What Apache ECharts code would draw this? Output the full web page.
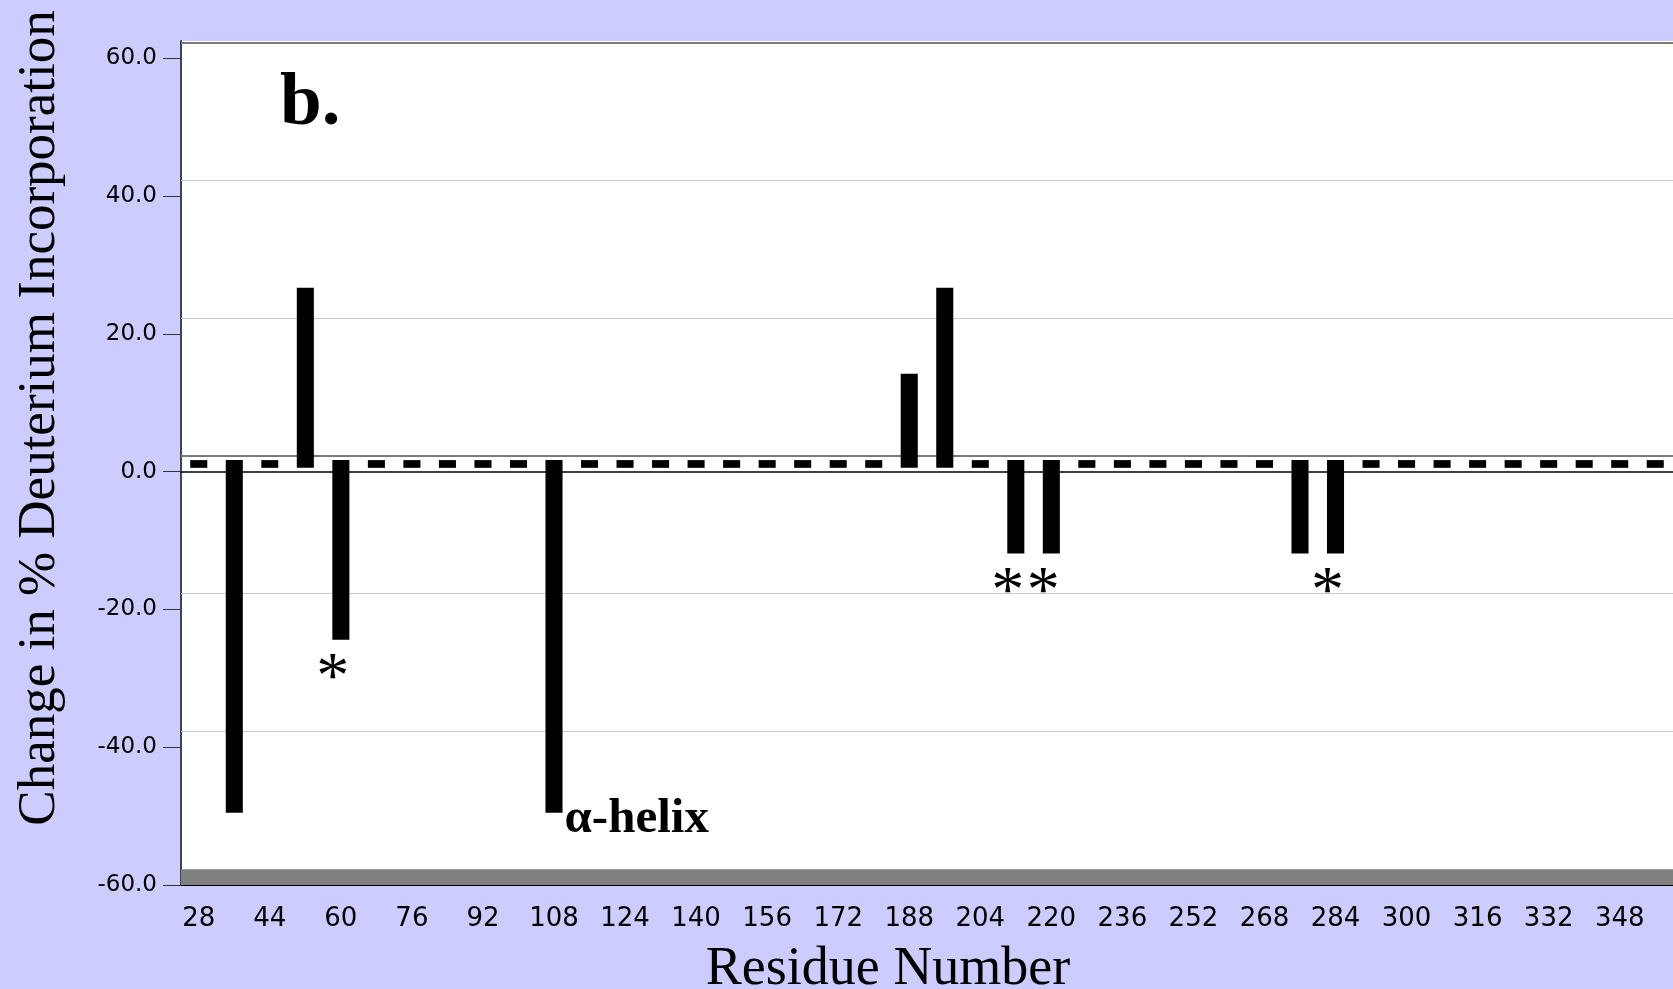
<!DOCTYPE html>
<html>
<head>
<meta charset="utf-8">
<style>
    html, body { margin: 0; padding: 0; background: #ccccff; }
    #chart { width: 1673px; height: 989px; }
</style>
<script src="https://cdn.jsdelivr.net/npm/echarts@6/dist/echarts.min.js"></script>
</head>
<body>
<div id="chart"></div>
<script>
// residues along the x axis, every 8th residue
var residues = [28, 36, 44, 52, 60, 68, 76, 84, 92, 100, 108, 116, 124, 132, 140, 148, 156, 164, 172, 180,
    188, 196, 204, 212, 220, 228, 236, 244, 252, 260, 268, 276, 284, 292, 300, 308, 316, 324, 332, 340, 348, 356];

// change in % deuterium incorporation (0 = no change, drawn as a short dash)
var change = [0, -49.5, 0, 26.7, -24.4, 0, 0, 0, 0, 0, -49.5, 0, 0, 0, 0, 0, 0, 0, 0, 0,
    14.2, 26.7, 0, -11.9, -11.9, 0, 0, 0, 0, 0, 0, -11.9, -11.9, 0, 0, 0, 0, 0, 0, 0, 0, 0];

var yTicks = [-60, -40, -20, 0, 20, 40, 60];

// annotations under some bars
var noteResidues = [60, 108, 212, 220, 284];
var noteTexts = ["*", "α-helix", "*", "*", "*"];

(function() {
    var depth = 2.3,       // 3d-style offset of the plot floor
        dashLo = 0.55,
        dashHi = 1.67;

    var gridLines = yTicks.map(function(t) {
        var dark = (t === 0 || t === 60);
        return {
            yAxis: t + depth,
            lineStyle: {
                color: dark ? "#7a7a7a" : "#c8c8c8",
                width: dark ? 2 : 1,
                type: "solid"
            }
        };
    });

    function renderItem(params, api) {
        var idx = api.value(0),
            v = api.value(1),
            lo = v < 0 ? v : dashLo,
            hi = v > 0 ? v : dashHi;
        var top = api.coord([idx, hi]),
            bottom = api.coord([idx, lo]),
            w = api.size([1, 0])[0] * 0.48;

        var children = [{
            type: "rect",
            shape: { x: top[0] - w / 2, y: top[1], width: w, height: bottom[1] - top[1] },
            style: { fill: "#000" }
        }];

        var n = noteResidues.indexOf(residues[idx]);
        if (n >= 0) {
            var txt = noteTexts[n];
            if (txt === "*") {
                children.push({
                    type: "text",
                    style: {
                        text: txt,
                        x: top[0] - 8,
                        y: bottom[1] + 40,
                        align: "center",
                        verticalAlign: "middle",
                        font: "66px 'Liberation Serif', serif",
                        fill: "#000"
                    }
                });
            } else {
                children.push({
                    type: "text",
                    style: {
                        text: txt,
                        x: top[0] + w / 2 + 2,
                        y: bottom[1] + 7,
                        align: "left",
                        verticalAlign: "middle",
                        font: "bold 49px 'Liberation Serif', serif",
                        fill: "#000"
                    }
                });
            }
        }
        return { type: "group", children: children };
    }

    var option = {
        backgroundColor: "#ccccff",
        animation: false,
        grid: {
            left: 181,
            right: -4,
            top: 41,
            bottom: 104,
            show: true,
            backgroundColor: "#ffffff",
            borderWidth: 0
        },
        xAxis: [{
            type: "category",
            data: residues,
            position: "bottom",
            axisLine: { onZero: false, lineStyle: { color: "#000", width: 2 } },
            axisTick: { interval: 0, length: 12, lineStyle: { color: "#333", width: 1 } },
            axisLabel: {
                interval: 1,
                margin: 21,
                color: "#000",
                fontFamily: "DejaVu Sans",
                fontSize: 26
            },
            splitLine: { show: false }
        }, {
            type: "category",
            data: residues,
            position: "bottom",
            axisLine: { onZero: true, lineStyle: { color: "#000", width: 1.5 } },
            axisTick: { interval: 0, length: 13, lineStyle: { color: "#333", width: 1 } },
            axisLabel: { show: false },
            splitLine: { show: false }
        }],
        yAxis: {
            type: "value",
            min: -60,
            max: 62.5,
            axisLine: { show: true, lineStyle: { color: "#444", width: 2 } },
            axisTick: { show: true, length: 18, customValues: yTicks, lineStyle: { color: "#333", width: 1 } },
            axisLabel: {
                customValues: yTicks,
                margin: 24,
                color: "#000",
                fontFamily: "DejaVu Sans",
                fontSize: 23,
                formatter: function(v) { return v.toFixed(1); }
            },
            splitLine: { show: false }
        },
        graphic: [{
            type: "text",
            left: 280,
            top: 67,
            style: {
                text: "b.",
                font: "bold 75px 'Liberation Serif', serif",
                fill: "#000"
            }
        }, {
            type: "text",
            x: 40,
            y: 418,
            rotation: Math.PI / 2,
            style: {
                text: "Change in % Deuterium Incorporation",
                align: "center",
                verticalAlign: "middle",
                font: "53px 'Liberation Serif', serif",
                fill: "#000"
            }
        }, {
            type: "text",
            x: 888,
            y: 943,
            style: {
                text: "Residue Number",
                align: "center",
                verticalAlign: "top",
                font: "54px 'Liberation Serif', serif",
                fill: "#000"
            }
        }],
        series: [{
            type: "line",
            data: [],
            silent: true,
            markArea: {
                silent: true,
                itemStyle: { color: "#808080" },
                data: [[{ yAxis: -60 }, { yAxis: -60 + depth }]]
            },
            markLine: {
                silent: true,
                symbol: "none",
                z: 1,
                label: { show: false },
                data: gridLines.slice(1)
            }
        }, {
            type: "custom",
            z: 10,
            renderItem: renderItem,
            encode: { x: 0, y: 1 },
            data: change.map(function(v, i) { return [i, v]; })
        }]
    };

    var myChart = echarts.init(document.getElementById("chart"));
    myChart.setOption(option);
})();
</script>
</body>
</html>
